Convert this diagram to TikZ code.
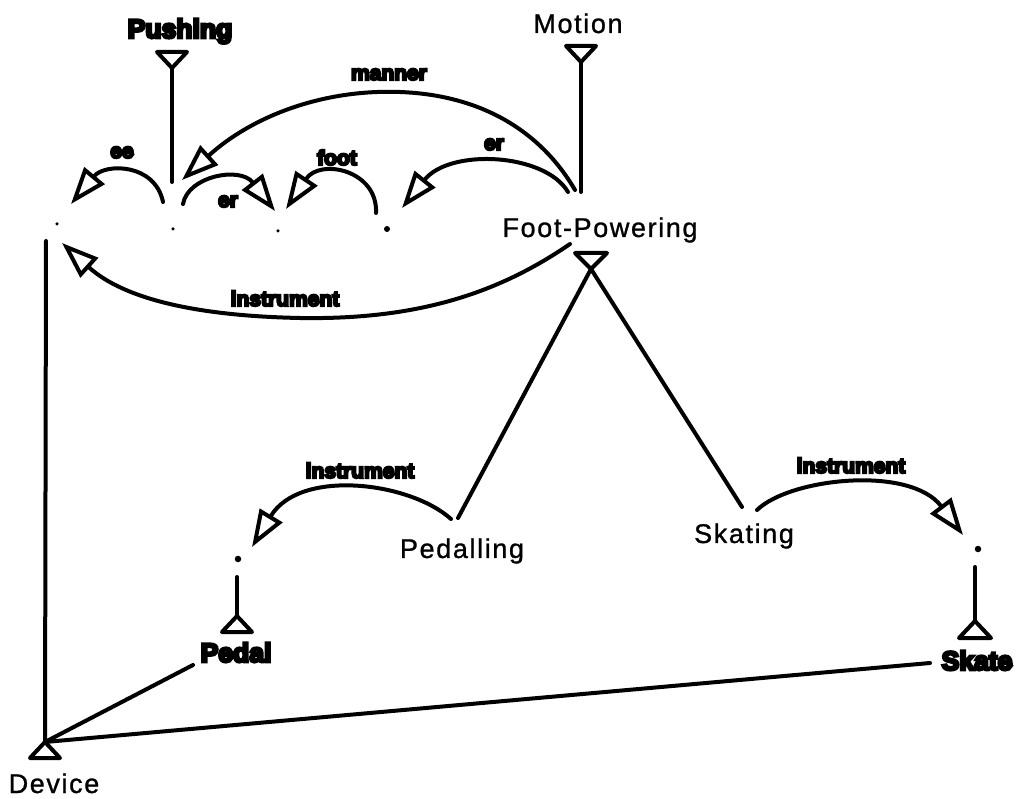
\documentclass[tikz,border=0pt]{standalone}
\usepackage{fontspec}
\setmainfont{Liberation Sans}
\newfontfamily\regfont[LetterSpace=6,FakeBold=1]{Liberation Sans}
\newfontfamily\heavyfont[FakeBold=10]{Liberation Sans Bold}
\usetikzlibrary{arrows.meta}
\begin{document}
\begin{tikzpicture}[x=1pt,y=-1pt,
  ln/.style={line width=4pt,line cap=round,line join=round},
  arr/.style={ln,-{Triangle[open,length=37pt,width=26pt,line width=4pt]}},
  tri/.style={line width=4pt,line join=round},
  reglbl/.style={anchor=base,inner sep=0pt,font=\regfont\fontsize{27}{30}\selectfont},
  heavylbl/.style={anchor=base,inner sep=0pt,font=\heavyfont\fontsize{26.5}{28}\selectfont},
  edgelbl/.style={anchor=base,inner sep=0pt,font=\heavyfont\fontsize{21}{24}\selectfont},
  dotn/.style={circle,fill=black,inner sep=0pt,minimum size=#1}]
\useasboundingbox (0,0) rectangle (1018,799);

% labels
\node[heavylbl] (pushing) at (180,38) {Pushing};
\node[reglbl] (motion) at (578,33) {Motion};
\node[reglbl] (fp) at (600,237) {Foot-Powering};
\node[reglbl] (pedalling) at (462,558) {Pedalling};
\node[reglbl] (skating) at (744,543) {Skating};
\node[heavylbl] (pedal) at (236,662) {Pedal};
\node[heavylbl] (skate) at (977,670) {Skate};
\node[reglbl] (device) at (54,793) {Device};

% dots
\node[dotn=3.5pt] (d1) at (57,224) {};
\node[dotn=3.5pt] (d2) at (173,229) {};
\node[dotn=3.5pt] (d3) at (278,231) {};
\node[dotn=6pt] (d4) at (387,229) {};
\node[dotn=6.5pt] (dped) at (238,559) {};
\node[dotn=6.5pt] (dsk) at (978,549) {};

% triangle apexes
\coordinate (pushA) at (172,68);
\coordinate (motA) at (581,62);
\coordinate (fpA) at (591,269);
\coordinate (pedA) at (237,616);
\coordinate (skA) at (975,621);
\coordinate (devA) at (45,742);

% type triangles
\draw[tri] (pushA) -- ++(-15,-16) -- ++(30,0) -- cycle;
\draw[tri] (motA) -- ++(-15,-16) -- ++(30,0) -- cycle;
\draw[tri] (fpA) -- ++(-16,-16) -- ++(32,0) -- cycle;
\draw[tri] (pedA) -- ++(-15,16) -- ++(30,0) -- cycle;
\draw[tri] (skA) -- ++(-16,17) -- ++(32,0) -- cycle;
\draw[tri] (devA) -- ++(-15,16) -- ++(30,0) -- cycle;

% free ends
\coordinate (pushE) at (172,182);
\coordinate (motE) at (581,192);
\coordinate (pedLineE) at (458,518);
\coordinate (skLineE) at (742,507);
\coordinate (pedTop) at (237,577);
\coordinate (skTop) at (975,567);
\coordinate (devTop) at (46,241);
\coordinate (pedalEnd) at (193,665);
\coordinate (skateEnd) at (930,663);

\draw[ln] (pushA) -- (pushE);
\draw[ln] (motA) -- (motE);
\draw[ln] (fpA) -- (pedLineE);
\draw[ln] (fpA) -- (skLineE);
\draw[ln] (pedTop) -- (pedA);
\draw[ln] (skTop) -- (skA);
\draw[ln] (devTop) -- (devA);
\draw[ln] (pedalEnd) -- (devA);
\draw[ln] (skateEnd) -- (devA);

% role arcs
\coordinate (eeS) at (163,202);   \coordinate (eeT) at (71,204);
\coordinate (er1S) at (183,204);  \coordinate (er1T) at (275,211);
\coordinate (footS) at (376,213); \coordinate (footT) at (286,209);
\coordinate (er2S) at (568,192);  \coordinate (er2T) at (402,208);
\coordinate (manS) at (575,190);  \coordinate (manM) at (400,92); \coordinate (manT) at (182,180);
\coordinate (insS) at (570,244);  \coordinate (insM) at (300,318); \coordinate (insT) at (62,243);
\coordinate (pinS) at (451,519);  \coordinate (pinT) at (252,547);
\coordinate (sinS) at (757,510);  \coordinate (sinT) at (963,535);

\draw[arr] (eeS) .. controls (155,163) and (105,163) .. (eeT);
\draw[arr] (er1S) .. controls (188,176) and (240,166) .. (er1T);
\draw[arr] (footS) .. controls (378,170) and (320,158) .. (footT);
\draw[arr] (er2S) .. controls (545,153) and (450,148) .. (er2T);
\draw[arr] (manS) .. controls (540,130) and (480,95) .. (manM) .. controls (320,89) and (250,118) .. (manT);
\draw[arr] (insS) .. controls (500,292) and (420,320) .. (insM) .. controls (200,316) and (125,300) .. (insT);
\draw[arr] (pinS) .. controls (410,482) and (300,468) .. (pinT);
\draw[arr] (sinS) .. controls (790,478) and (910,465) .. (sinT);

% edge labels
\node[edgelbl] (lee) at (122,158) {ee};
\node[edgelbl] (ler1) at (228,207) {er};
\node[edgelbl] (lfoot) at (337,165) {foot};
\node[edgelbl] (ler2) at (494,150) {er};
\node[edgelbl] (lman) at (389,80) {manner};
\node[edgelbl] (lins) at (285,306) {instrument};
\node[edgelbl] (lpin) at (360,478) {instrument};
\node[edgelbl] (lsin) at (851,473) {instrument};
\end{tikzpicture}
\end{document}
